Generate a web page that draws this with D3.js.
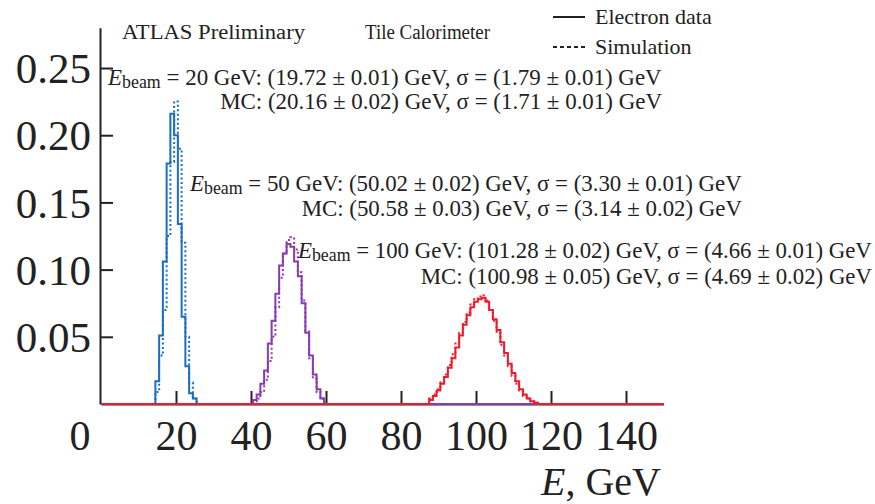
<!DOCTYPE html>
<html>
<head>
<meta charset="utf-8">
<script src="https://cdn.jsdelivr.net/npm/d3@7"></script>
<style>
  html, body { margin: 0; padding: 0; background: #fff; }
  svg { display: block; }
  svg text { font-family: "Liberation Serif", "Times New Roman", serif; }
</style>
</head>
<body>
<svg id="chart" width="875" height="504"></svg>
<script>
// ---------- data (bin centres in GeV, 1 GeV bins; normalised counts) ----------
const blueCenters = [15,16,17,18,19,20,21,22,23,24,25];
const blueData    = [0.017,0.051,0.106,0.179,0.216,0.200,0.134,0.065,0.028,0.008,0.004];
const blueMC      = [0.009,0.036,0.070,0.125,0.180,0.225,0.190,0.120,0.050,0.016,0.004];

const purpleCenters = [41,42,43,44,45,46,47,48,49,50,51,52,53,54,55,56,57,58,59];
const purpleData    = [0.003,0.007,0.015,0.025,0.045,0.062,0.082,0.103,0.112,0.119,0.117,0.106,0.095,0.075,0.053,0.036,0.022,0.011,0.004];
const purpleMC      = [0.002,0.004,0.009,0.018,0.032,0.050,0.072,0.094,0.112,0.122,0.124,0.115,0.098,0.077,0.054,0.034,0.019,0.009,0.004];

const redCenters = [88,89,90,91,92,93,94,95,96,97,98,99,100,101,102,103,104,105,106,107,108,109,110,111,112,113,114,115,116];
const redData    = [0.003,0.006,0.010,0.015,0.020,0.027,0.034,0.042,0.051,0.059,0.066,0.072,0.076,0.078,0.079,0.076,0.070,0.063,0.055,0.046,0.038,0.030,0.023,0.017,0.011,0.007,0.004,0.002,0.001];
const redMC      = [0.004,0.007,0.011,0.016,0.022,0.029,0.037,0.045,0.053,0.061,0.068,0.074,0.078,0.080,0.081,0.077,0.070,0.062,0.053,0.044,0.036,0.028,0.021,0.015,0.010,0.006,0.004,0.002,0.001];

const xTicks = [20,40,60,80,100,120,140];
const yTicks = [0.05,0.10,0.15,0.20,0.25];

const legendLabels = ["Electron data", "Simulation"];
const headerLeft = "ATLAS Preliminary";
const headerRight = "Tile Calorimeter";

const annotations = [
  {beam: "20",  data: ": (19.72 ± 0.01) GeV, σ = (1.79 ± 0.01) GeV",  mc: "MC: (20.16 ± 0.02) GeV, σ = (1.71 ± 0.01) GeV"},
  {beam: "50",  data: ": (50.02 ± 0.02) GeV, σ = (3.30 ± 0.01) GeV",  mc: "MC: (50.58 ± 0.03) GeV, σ = (3.14 ± 0.02) GeV"},
  {beam: "100", data: ": (101.28 ± 0.02) GeV, σ = (4.66 ± 0.01) GeV", mc: "MC: (100.98 ± 0.05) GeV, σ = (4.69 ± 0.02) GeV"}
];

// ---------- layout ----------
const FONT = "Liberation Serif";
const INK = "#222";
const svg = d3.select("#chart");
const x = d3.scaleLinear().domain([0,150]).range([101,663.5]);
const y = d3.scaleLinear().domain([0,0.28]).range([404,27.7]);

const colors = {blue: "#1b6ec2", purple: "#8a3bb2", red: "#ee1c2a"};

// axes
const yAxis = d3.axisLeft(y).tickValues(yTicks).tickFormat(d3.format(".2f"))
  .tickSizeInner(-13).tickSizeOuter(0).tickPadding(9);
const gy = svg.append("g").attr("transform", `translate(${x(0)-1},0)`).call(yAxis)
  .attr("font-family", FONT);
gy.select(".domain").attr("stroke", INK).attr("stroke-width", 2);
gy.selectAll(".tick line").attr("stroke", INK).attr("stroke-width", 2);
gy.selectAll(".tick text").attr("font-size", 43).attr("font-family", FONT).attr("fill", INK).attr("dy", "0.34em");

const xAxis = d3.axisBottom(x).tickValues(xTicks).tickFormat(d3.format("d"))
  .tickSizeInner(-13).tickSizeOuter(0).tickPadding(16);
const gx = svg.append("g").attr("transform", `translate(0,${y(0)})`).call(xAxis)
  .attr("font-family", FONT);
gx.select(".domain").attr("stroke", INK).attr("stroke-width", 2);
gx.selectAll(".tick line").attr("stroke", INK).attr("stroke-width", 2);
gx.selectAll(".tick text").attr("font-size", 42).attr("font-family", FONT).attr("fill", INK);

svg.append("text").attr("x", 80).attr("y", 450).attr("text-anchor", "middle")
  .attr("font-family", FONT).attr("font-size", 42).attr("fill", INK).text("0");

const xt = svg.append("text").attr("x", 661).attr("y", 495).attr("text-anchor", "end")
  .attr("font-family", FONT).attr("font-size", 40).attr("fill", INK);
xt.append("tspan").attr("font-style", "italic").text("E");
xt.append("tspan").text(", GeV");

// histograms
function stepPoints(centers, vals) {
  const pts = [[0,0]];
  centers.forEach((c,i) => pts.push([c-0.5, vals[i]]));
  pts.push([centers[centers.length-1]+0.5, 0]);
  pts.push([150, 0]);
  return pts;
}
const line = d3.line().x(d => x(d[0])).y(d => y(d[1])).curve(d3.curveStepAfter);

const series = [
  {c: blueCenters, d: blueData, m: blueMC, col: colors.blue},
  {c: purpleCenters, d: purpleData, m: purpleMC, col: colors.purple},
  {c: redCenters, d: redData, m: redMC, col: colors.red}
];
series.forEach(s => {
  svg.append("path").attr("d", line(stepPoints(s.c, s.m)))
    .attr("fill", "none").attr("stroke", s.col).attr("stroke-width", 2)
    .attr("stroke-dasharray", "2,2.5");
  svg.append("path").attr("d", line(stepPoints(s.c, s.d)))
    .attr("fill", "none").attr("stroke", s.col).attr("stroke-width", 2);
});

// header
svg.append("text").attr("x", 122).attr("y", 39).attr("font-family", FONT).attr("font-size", 20)
  .attr("fill", INK).attr("textLength", 183).attr("lengthAdjust", "spacingAndGlyphs").text(headerLeft);
svg.append("text").attr("x", 365).attr("y", 39).attr("font-family", FONT).attr("font-size", 20)
  .attr("fill", INK).attr("textLength", 125).attr("lengthAdjust", "spacingAndGlyphs").text(headerRight);

// legend
svg.append("line").attr("x1", 553).attr("x2", 585).attr("y1", 17).attr("y2", 17)
  .attr("stroke", INK).attr("stroke-width", 2);
svg.append("line").attr("x1", 553).attr("x2", 585).attr("y1", 47).attr("y2", 47)
  .attr("stroke", INK).attr("stroke-width", 2).attr("stroke-dasharray", "4,3");
svg.append("text").attr("x", 595).attr("y", 24).attr("font-family", FONT).attr("font-size", 22)
  .attr("fill", INK).text(legendLabels[0]);
svg.append("text").attr("x", 595).attr("y", 54).attr("font-family", FONT).attr("font-size", 22)
  .attr("fill", INK).text(legendLabels[1]);

// annotations
const annPos = [
  {x0: 108, x1: 662, y1: 85, y2: 109},
  {x0: 190, x1: 742, y1: 191, y2: 216},
  {x0: 298, x1: 872, y1: 258, y2: 284}
];
annotations.forEach((a, i) => {
  const p = annPos[i];
  const fs = 19;
  const t = svg.append("text").attr("x", p.x0).attr("y", p.y1).attr("font-family", FONT)
    .attr("font-size", fs).attr("fill", INK);
  t.append("tspan").attr("font-style", "italic").text("E");
  t.append("tspan").attr("font-size", fs*0.78).attr("dy", 3).text("beam");
  t.append("tspan").attr("dy", -3).text(" = " + a.beam + " GeV" + a.data);
  const w = t.node().getComputedTextLength();
  const k = (p.x1 - p.x0) / w;
  const fs2 = fs * k;
  t.attr("font-size", fs2);
  t.selectAll("tspan").filter((d,j) => j === 1).attr("font-size", fs2*0.78);
  svg.append("text").attr("x", p.x1).attr("y", p.y2).attr("text-anchor", "end")
    .attr("font-family", FONT).attr("font-size", fs2).attr("fill", INK).text(a.mc);
});
</script>
</body>
</html>
